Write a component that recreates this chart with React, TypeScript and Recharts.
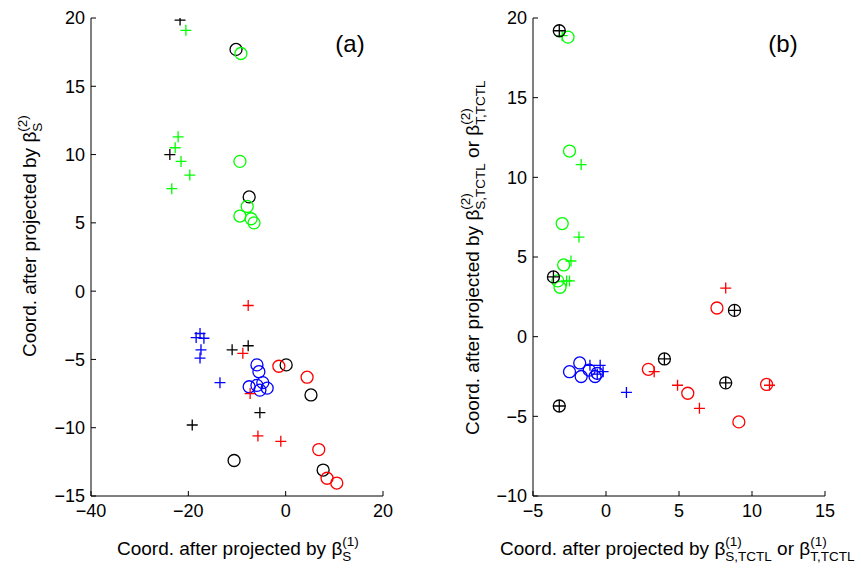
import React, { useLayoutEffect, useRef, useState } from 'react';
import { ScatterChart, Scatter, XAxis, YAxis } from 'recharts';

type P = { x: number; y: number };

// ---------- Panel (a) data ----------
const aGreenPlus: P[] = [
  { x: -20.5, y: 19.1 }, { x: -22.1, y: 11.3 }, { x: -22.7, y: 10.5 },
  { x: -21.5, y: 9.5 }, { x: -19.7, y: 8.5 }, { x: -23.4, y: 7.5 },
];
const aGreenCircle: P[] = [
  { x: -9.2, y: 17.4 }, { x: -9.4, y: 9.5 }, { x: -7.9, y: 6.2 },
  { x: -9.4, y: 5.5 }, { x: -7.1, y: 5.3 }, { x: -6.5, y: 5.0 },
];
const aBluePlus: P[] = [
  { x: -17.6, y: -3.1 }, { x: -18.4, y: -3.4 }, { x: -16.8, y: -3.45 },
  { x: -17.4, y: -4.3 }, { x: -17.6, y: -4.9 }, { x: -13.5, y: -6.7 },
];
const aBlueCircle: P[] = [
  { x: -5.9, y: -5.4 }, { x: -5.5, y: -5.9 }, { x: -7.5, y: -7.0 },
  { x: -5.9, y: -6.9 }, { x: -4.7, y: -6.7 }, { x: -5.3, y: -7.25 }, { x: -3.8, y: -7.1 },
];
const aRedPlus: P[] = [
  { x: -7.7, y: -1.05 }, { x: -8.8, y: -4.55 }, { x: -7.3, y: -7.5 },
  { x: -5.7, y: -10.6 }, { x: -1.0, y: -11.0 },
];
const aRedCircle: P[] = [
  { x: -1.4, y: -5.5 }, { x: 4.4, y: -6.3 }, { x: 6.8, y: -11.6 },
  { x: 8.5, y: -13.7 }, { x: 10.5, y: -14.05 },
];
const aBlackPlus: P[] = [
  { x: -21.7, y: 19.85 }, { x: -23.8, y: 10.0 }, { x: -11.0, y: -4.3 },
  { x: -7.7, y: -4.0 }, { x: -5.3, y: -8.9 }, { x: -19.2, y: -9.8 },
];
const aBlackCircle: P[] = [
  { x: -10.2, y: 17.7 }, { x: -7.5, y: 6.9 }, { x: 0.1, y: -5.4 },
  { x: 5.2, y: -7.6 }, { x: -10.6, y: -12.4 }, { x: 7.7, y: -13.1 },
];

// ---------- Panel (b) data ----------
const bGreenCircle: P[] = [
  { x: -2.6, y: 18.8 }, { x: -2.5, y: 11.65 }, { x: -3.0, y: 7.1 },
  { x: -2.9, y: 4.5 }, { x: -3.15, y: 3.1 }, { x: -3.3, y: 3.5 },
];
const bGreenPlus: P[] = [
  { x: -3.0, y: 18.9 }, { x: -1.7, y: 10.8 }, { x: -1.85, y: 6.25 },
  { x: -2.4, y: 4.75 }, { x: -2.7, y: 3.5 }, { x: -2.5, y: 3.5 },
];
const bBlueCircle: P[] = [
  { x: -1.8, y: -1.65 }, { x: -2.5, y: -2.2 }, { x: -1.7, y: -2.5 },
  { x: -1.15, y: -2.1 }, { x: -0.75, y: -2.5 }, { x: -0.6, y: -2.3 },
];
const bBluePlus: P[] = [
  { x: -1.1, y: -1.8 }, { x: -0.4, y: -1.8 }, { x: -0.2, y: -2.2 },
  { x: -0.6, y: -2.35 }, { x: 1.4, y: -3.5 },
];
const bRedCircle: P[] = [
  { x: 2.9, y: -2.05 }, { x: 5.6, y: -3.55 }, { x: 7.6, y: 1.8 },
  { x: 11.0, y: -3.0 }, { x: 9.1, y: -5.35 },
];
const bRedPlus: P[] = [
  { x: 3.3, y: -2.2 }, { x: 4.9, y: -3.05 }, { x: 6.4, y: -4.5 },
  { x: 8.2, y: 3.05 }, { x: 11.2, y: -3.05 },
];
const bBlackCirclePlus: P[] = [
  { x: -3.2, y: 19.2 }, { x: -3.6, y: 3.75 }, { x: 4.0, y: -1.4 },
  { x: 8.8, y: 1.65 }, { x: 8.2, y: -2.9 }, { x: -3.2, y: -4.35 },
];

// ---------- Ticks ----------
const aXTicks = [-40, -20, 0, 20];
const aYTicks = [-15, -10, -5, 0, 5, 10, 15, 20];
const bXTicks = [-5, 0, 5, 10, 15];
const bYTicks = [-10, -5, 0, 5, 10, 15, 20];

const FONT = '"Liberation Sans", Arial, Helvetica, sans-serif';
const GREEN = '#00ff00';
const RED = '#ff0000';
const BLUE = '#0000ff';
const BLACK = '#000000';

const fmt = (v: number) => (v < 0 ? '\u2212' + Math.abs(v) : String(v));

const HS = 5.5;
const R = 6;
const SW = 1.3;

const plusShape = (color: string) => (props: any) => {
  const { cx, cy } = props;
  return (
    <path
      d={`M${cx - HS},${cy}H${cx + HS}M${cx},${cy - HS}V${cy + HS}`}
      stroke={color}
      strokeWidth={SW}
      fill="none"
    />
  );
};
const circleShape = (color: string) => (props: any) => {
  const { cx, cy } = props;
  return <circle cx={cx} cy={cy} r={R} stroke={color} strokeWidth={SW} fill="none" />;
};
const circlePlusShape = (color: string) => (props: any) => {
  const { cx, cy } = props;
  return (
    <g>
      <circle cx={cx} cy={cy} r={R} stroke={color} strokeWidth={SW} fill="none" />
      <path
        d={`M${cx - R},${cy}H${cx + R}M${cx},${cy - R}V${cy + R}`}
        stroke={color}
        strokeWidth={SW}
        fill="none"
      />
    </g>
  );
};

const tickStyle = { fill: '#000', fontSize: 18, fontFamily: FONT };

type Seg = { base: string; sup: string; sub: string };
const F = 19;
const f = 13.5;
const SUBDY = 5.5;
const SUPDY = -9;

function BetaLabel({ segs, x, y, vertical }: { segs: Seg[]; x: number; y: number; vertical?: boolean }) {
  const refs = useRef<(SVGTextElement | null)[]>([]);
  const pieces: { text: string; size: number; kind: 'base' | 'sub' | 'sup'; seg: number }[] = [];
  segs.forEach((s, i) => {
    pieces.push({ text: s.base, size: F, kind: 'base', seg: i });
    pieces.push({ text: s.sup, size: f, kind: 'sup', seg: i });
    pieces.push({ text: s.sub, size: f, kind: 'sub', seg: i });
  });
  const [widths, setWidths] = useState<number[]>(pieces.map((p) => p.text.length * p.size * 0.55));
  useLayoutEffect(() => {
    const w = refs.current.map((el, i) => (el ? el.getComputedTextLength() : widths[i]));
    setWidths(w);
    // eslint-disable-next-line
  }, []);
  const xs: number[] = [];
  let cursor = 0;
  segs.forEach((_, i) => {
    const bi = i * 3;
    xs[bi] = cursor;
    cursor += widths[bi];
    xs[bi + 1] = cursor;
    xs[bi + 2] = cursor;
    cursor += Math.max(widths[bi + 1], widths[bi + 2]);
  });
  const transform = vertical ? `translate(${x},${y}) rotate(-90)` : `translate(${x},${y})`;
  return (
    <g transform={transform}>
      {pieces.map((p, i) => (
        <text
          key={i}
          ref={(el) => {
            refs.current[i] = el;
          }}
          x={xs[i]}
          y={p.kind === 'sub' ? SUBDY : p.kind === 'sup' ? SUPDY : 0}
          fontSize={p.size}
          fontFamily={FONT}
          fill="#000"
          style={{ whiteSpace: 'pre' }}
        >
          {p.text}
        </text>
      ))}
    </g>
  );
}

const aXLabel: Seg[] = [{ base: 'Coord. after projected by β', sup: '(1)', sub: 'S' }];
const aYLabel: Seg[] = [{ base: 'Coord. after projected by β', sup: '(2)', sub: 'S' }];
const bXLabel: Seg[] = [
  { base: 'Coord. after projected by β', sup: '(1)', sub: 'S,TCTL' },
  { base: ' or β', sup: '(1)', sub: 'T,TCTL' },
];
const bYLabel: Seg[] = [
  { base: 'Coord. after projected by β', sup: '(2)', sub: 'S,TCTL' },
  { base: ' or β', sup: '(2)', sub: 'T,TCTL' },
];

function axisProps() {
  return {
    type: 'number' as const,
    interval: 0 as const,
    tickSize: -5,
    axisLine: { stroke: '#000' },
    tickLine: { stroke: '#000' },
    tick: tickStyle,
    tickFormatter: fmt,
    allowDataOverflow: true,
  };
}

export default function App() {
  return (
    <div style={{ position: 'absolute', left: 0, top: 0, width: 861, height: 568, background: '#fff' }}>
      <div style={{ position: 'absolute', left: 0, top: 0 }}>
        <ScatterChart width={400} height={568} margin={{ top: 18, right: 17, bottom: 42, left: 0 }}>
          <XAxis {...axisProps()} dataKey="x" domain={[-40, 20]} ticks={aXTicks} height={30} tickMargin={13} />
          <YAxis {...axisProps()} dataKey="y" domain={[-15, 20]} ticks={aYTicks} width={91} tickMargin={11} />
          <Scatter data={aBlackPlus} shape={plusShape(BLACK)} isAnimationActive={false} />
          <Scatter data={aBlackCircle} shape={circleShape(BLACK)} isAnimationActive={false} />
          <Scatter data={aGreenPlus} shape={plusShape(GREEN)} isAnimationActive={false} />
          <Scatter data={aGreenCircle} shape={circleShape(GREEN)} isAnimationActive={false} />
          <Scatter data={aBluePlus} shape={plusShape(BLUE)} isAnimationActive={false} />
          <Scatter data={aBlueCircle} shape={circleShape(BLUE)} isAnimationActive={false} />
          <Scatter data={aRedPlus} shape={plusShape(RED)} isAnimationActive={false} />
          <Scatter data={aRedCircle} shape={circleShape(RED)} isAnimationActive={false} />
        </ScatterChart>
      </div>
      <div style={{ position: 'absolute', left: 420, top: 0 }}>
        <ScatterChart width={430} height={568} margin={{ top: 18, right: 25, bottom: 42, left: 0 }}>
          <XAxis {...axisProps()} dataKey="x" domain={[-5, 15]} ticks={bXTicks} height={30} tickMargin={13} />
          <YAxis {...axisProps()} dataKey="y" domain={[-10, 20]} ticks={bYTicks} width={113} tickMargin={11} />
          <Scatter data={bGreenCircle} shape={circleShape(GREEN)} isAnimationActive={false} />
          <Scatter data={bGreenPlus} shape={plusShape(GREEN)} isAnimationActive={false} />
          <Scatter data={bBlueCircle} shape={circleShape(BLUE)} isAnimationActive={false} />
          <Scatter data={bBluePlus} shape={plusShape(BLUE)} isAnimationActive={false} />
          <Scatter data={bRedCircle} shape={circleShape(RED)} isAnimationActive={false} />
          <Scatter data={bRedPlus} shape={plusShape(RED)} isAnimationActive={false} />
          <Scatter data={bBlackCirclePlus} shape={circlePlusShape(BLACK)} isAnimationActive={false} />
        </ScatterChart>
      </div>
      <svg
        width={861}
        height={568}
        style={{ position: 'absolute', left: 0, top: 0, pointerEvents: 'none' }}
      >
        <text x={350} y={52} textAnchor="middle" fontSize={24} fontFamily={FONT} fill="#000">(a)</text>
        <text x={783} y={52} textAnchor="middle" fontSize={24} fontFamily={FONT} fill="#000">(b)</text>
        <BetaLabel segs={aXLabel} x={117} y={555} />
        <BetaLabel segs={aYLabel} x={36} y={357} vertical />
        <BetaLabel segs={bXLabel} x={500} y={555} />
        <BetaLabel segs={bYLabel} x={479} y={435} vertical />
      </svg>
    </div>
  );
}
